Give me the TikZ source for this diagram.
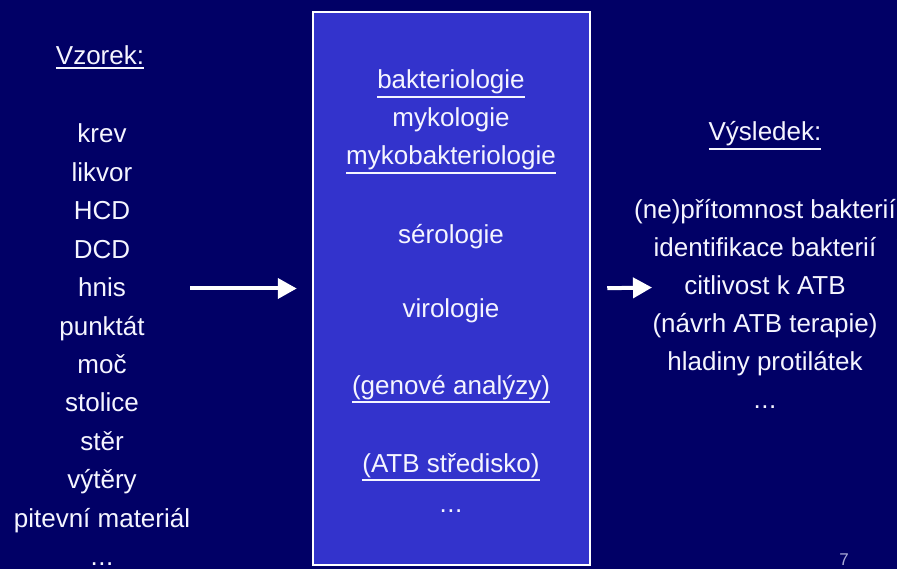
\documentclass[tikz,border=0pt]{standalone}
\usepackage{fontspec}
\setmainfont{Liberation Sans}
\usetikzlibrary{arrows.meta}

\definecolor{slidebg}{RGB}{1,0,102}
\definecolor{labblue}{RGB}{51,51,204}
\definecolor{chalk}{RGB}{245,245,255}
\definecolor{pagenum}{RGB}{170,170,215}

\newcommand{\etc}{.\kern0.5pt.\kern0.5pt.}
% underline just below the descenders
\newcommand{\ulbar}[1]{\setbox0=\hbox{#1}%
	\rlap{\vrule height\dimexpr-\dp0-1.5pt\relax depth\dimexpr\dp0+3.5pt\relax width\wd0}\box0}

\tikzset{
	txt/.style = {text=chalk, font=\fontsize{26}{31}\selectfont, anchor=base, inner sep=0pt},
	arr/.style = {draw=white, line width=4pt, -{Triangle[length=19pt, width=20pt]}},
}

\begin{document}
\begin{tikzpicture}[x=1pt, y=-1pt]
		\fill[slidebg] (0, 0) rectangle (897, 569);
		\path (451.5, 288.5) node (lab)
			[draw=white, line width=2.5pt, fill=labblue,
			 minimum width=277pt, minimum height=553pt, inner sep=0pt] {};

		% vzorek
		\node[txt] (vzorek) at (100, 65) {\ulbar{Vzorek:}};
		\foreach \word [count=\i] in {krev, likvor, HCD, DCD, hnis, punkt\'at,
				mo\v{c}, stolice, st\v{e}r, v\'yt\v{e}ry, pitevn\'i materi\'al, \etc}
			\node[txt] (sample\i) at (102, {143 + 38.4*(\i-1)}) {\word};

		% laborator
		\foreach \y/\word [count=\i] in {89/\ulbar{bakteriologie}, 127/mykologie,
				165/\ulbar{mykobakteriologie}, 244/s\'erologie, 318/virologie,
				394/\ulbar{(genov\'e anal\'yzy)}, 472/\ulbar{(ATB st\v{r}edisko)}, 512/\etc}
			\node[txt] (field\i) at (451, \y) {\word};

		% vysledek
		\node[txt] (vysledek) at (765, 141) {\ulbar{V\'ysledek:}};
		\foreach \word [count=\i] in {(ne)p\v{r}\'itomnost bakteri\'i, identifikace bakteri\'i,
				citlivost k ATB, (n\'avrh ATB terapie), hladiny protil\'atek, \etc}
			\node[txt] (result\i) at (765, {219 + 37.8*(\i-1)}) {\word};

		\coordinate (restip) at (652, 287.5);
		\draw[arr, shorten >=15pt] (sample11.east |- lab.west) -- (lab.west);
		\draw[arr, shorten <=16pt] (lab.east) -- (restip);

		\node[txt, text=pagenum, font=\fontsize{17}{20}\selectfont] (page) at (844, 565) {7};
	\end{tikzpicture}
\end{document}
